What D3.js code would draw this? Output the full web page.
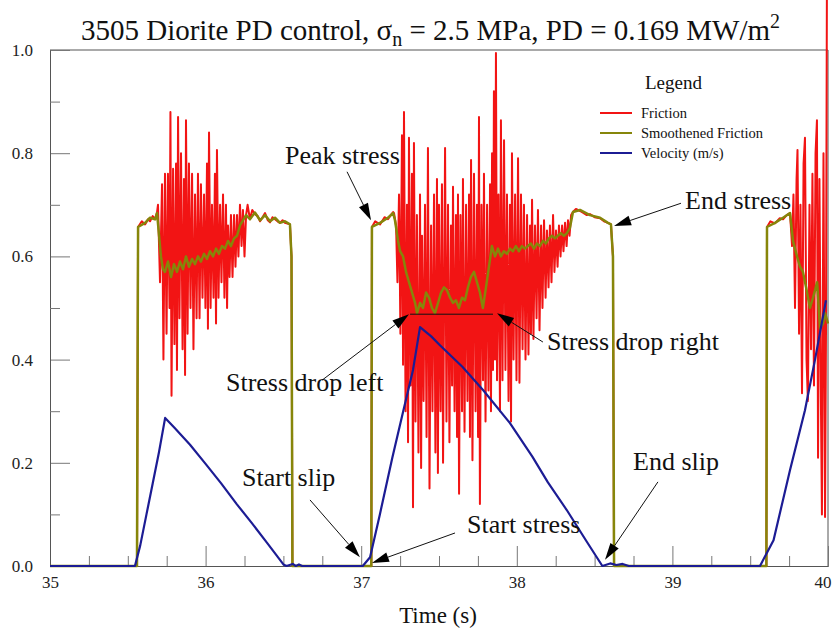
<!DOCTYPE html>
<html><head><meta charset="utf-8">
<script src="https://cdn.jsdelivr.net/npm/d3@7"></script>
<style>
body{margin:0;background:#fff;}
svg{display:block;font-family:"Liberation Serif","Times New Roman",serif;}
svg text{font-family:"Liberation Serif","Times New Roman",serif;}
</style>
</head><body>
<svg id="chart" width="833" height="633"></svg>
<script>
// ---------- data ----------
const xDomain = [35, 40];
const yDomain = [0, 1];
const xMajorTicks = [35, 36, 37, 38, 39, 40];
const xMinorTicks = [35.25, 35.5, 35.75, 36.25, 36.5, 36.75, 37.25, 37.5, 37.75, 38.25, 38.5, 38.75, 39.25, 39.5, 39.75];
const yMajorTicks = [0, 0.2, 0.4, 0.6, 0.8, 1.0];
const yMinorTicks = [0.1, 0.3, 0.5, 0.7, 0.9];
const seriesNames = ["Friction", "Smoothened Friction", "Velocity (m/s)"];
const titleText = "3505 Diorite PD control, ";
const xLabel = "Time (s)";

// velocity (m/s): [time s, value]
const velocity = [
[35.00,0],[35.546,0],[35.58,0.04],[35.62,0.10],[35.66,0.16],[35.70,0.22],[35.74,0.287],[35.80,0.268],[35.90,0.235],[36.00,0.198],[36.10,0.16],[36.20,0.12],[36.30,0.082],[36.40,0.043],[36.50,0.003],[36.52,0],[36.56,0.004],[36.58,0],[36.60,0.003],[36.62,0],
[37.01,0],[37.057,0.017],[37.12,0.10],[37.20,0.21],[37.27,0.30],[37.333,0.38],[37.378,0.463],[37.45,0.445],[37.506,0.428],[37.65,0.386],[37.783,0.341],[37.956,0.277],[38.10,0.212],[38.20,0.162],[38.32,0.109],[38.45,0.047],[38.55,0],[38.60,0.005],[38.64,0.002],[38.68,0.004],[38.72,0],
[39.563,0],[39.65,0.05],[39.756,0.186],[39.852,0.302],[39.916,0.399],[39.987,0.515]
];

// smoothened friction: [time s, value]
const smoothed = [
[35.00,0],[35.559,0],[35.566,0.657],[35.611,0.665],[35.643,0.675],[35.675,0.672],[35.688,0.684],[35.701,0.64],[35.713,0.60],[35.726,0.575],[35.739,0.57],[35.758,0.59],[35.778,0.56],[35.797,0.585],[35.816,0.57],[35.835,0.59],[35.855,0.575],[35.874,0.60],[35.893,0.58],[35.913,0.595],[35.932,0.585],[35.951,0.60],[35.970,0.59],[35.990,0.605],[36.009,0.595],[36.028,0.61],[36.048,0.60],[36.067,0.615],[36.086,0.605],[36.105,0.62],[36.125,0.615],[36.144,0.63],[36.163,0.62],[36.183,0.635],[36.202,0.64],[36.221,0.66],[36.240,0.67],[36.260,0.68],[36.285,0.672],[36.317,0.685],[36.350,0.67],[36.382,0.68],[36.414,0.668],[36.446,0.675],[36.478,0.665],[36.510,0.668],[36.542,0.662],[36.552,0.60],[36.558,0],
[37.065,0],[37.069,0.657],[37.121,0.665],[37.172,0.675],[37.205,0.684],[37.217,0.67],[37.237,0.63],[37.250,0.61],[37.269,0.60],[37.288,0.57],[37.307,0.55],[37.327,0.53],[37.346,0.51],[37.359,0.49],[37.378,0.51],[37.397,0.50],[37.417,0.53],[37.436,0.52],[37.455,0.50],[37.474,0.49],[37.494,0.51],[37.513,0.53],[37.532,0.54],[37.551,0.535],[37.571,0.52],[37.590,0.51],[37.609,0.515],[37.628,0.50],[37.648,0.52],[37.667,0.515],[37.686,0.54],[37.705,0.56],[37.725,0.57],[37.744,0.55],[37.763,0.53],[37.782,0.50],[37.802,0.54],[37.821,0.58],[37.840,0.62],[37.860,0.60],[37.879,0.615],[37.898,0.60],[37.917,0.61],[37.937,0.605],[37.956,0.615],[37.975,0.61],[37.994,0.62],[38.014,0.61],[38.033,0.62],[38.052,0.615],[38.071,0.62],[38.091,0.625],[38.110,0.615],[38.129,0.625],[38.148,0.62],[38.168,0.63],[38.187,0.625],[38.206,0.635],[38.226,0.64],[38.245,0.635],[38.264,0.64],[38.283,0.645],[38.303,0.64],[38.322,0.645],[38.341,0.655],[38.361,0.686],[38.406,0.69],[38.470,0.68],[38.535,0.675],[38.586,0.665],[38.605,0.662],[38.618,0.60],[38.625,0],
[39.604,0],[39.608,0.657],[39.659,0.665],[39.711,0.675],[39.756,0.684],[39.775,0.63],[39.801,0.60],[39.820,0.58],[39.839,0.57],[39.859,0.54],[39.884,0.50],[39.904,0.52],[39.930,0.55],[39.949,0.46],[39.968,0.47],[39.981,0.49],[40.000,0.47]
];

// raw friction: [time s, value]
const friction = [
[35.00,0],[35.559,0],[35.566,0.657],[35.59,0.668],[35.611,0.662],[35.63,0.672],[35.643,0.668],[35.66,0.678],[35.675,0.672],[35.688,0.686],
[35.694,0.70],[35.707,0.55],[35.720,0.74],[35.729,0.40],[35.739,0.76],[35.749,0.45],[35.758,0.76],[35.768,0.50],[35.774,0.88],[35.781,0.33],[35.791,0.77],[35.800,0.43],[35.810,0.78],[35.816,0.38],[35.823,0.87],[35.832,0.48],[35.842,0.80],[35.852,0.42],[35.861,0.75],[35.868,0.37],[35.874,0.864],[35.884,0.45],[35.893,0.78],[35.903,0.50],[35.913,0.76],[35.922,0.42],[35.932,0.72],[35.942,0.48],[35.951,0.76],[35.961,0.48],[35.970,0.74],[35.980,0.52],[35.990,0.72],[35.999,0.50],[36.009,0.78],[36.015,0.46],[36.022,0.84],[36.032,0.50],[36.041,0.70],[36.051,0.52],[36.060,0.76],[36.067,0.47],[36.073,0.806],[36.083,0.52],[36.093,0.70],[36.102,0.55],[36.112,0.72],[36.121,0.52],[36.131,0.70],[36.138,0.50],[36.144,0.66],[36.154,0.56],[36.163,0.68],[36.173,0.56],[36.183,0.68],[36.192,0.58],[36.202,0.68],[36.211,0.60],[36.221,0.70],[36.231,0.62],[36.240,0.69],[36.250,0.60],[36.260,0.68],
[36.27,0.70],[36.285,0.672],[36.30,0.69],[36.317,0.682],[36.335,0.678],[36.350,0.668],[36.366,0.676],[36.382,0.684],[36.40,0.67],[36.414,0.666],[36.43,0.676],[36.446,0.672],[36.462,0.668],[36.478,0.665],[36.495,0.67],[36.510,0.665],[36.542,0.662],[36.552,0.60],[36.558,0],
[37.065,0],[37.069,0.657],[37.09,0.668],[37.121,0.662],[37.15,0.676],[37.172,0.672],[37.19,0.68],[37.205,0.686],[37.211,0.684],
[37.224,0.66],[37.233,0.55],[37.243,0.72],[37.252,0.45],[37.262,0.835],[37.269,0.39],[37.275,0.88],[37.285,0.30],[37.294,0.70],[37.301,0.24],[37.307,0.83],[37.317,0.35],[37.326,0.76],[37.333,0.114],[37.339,0.82],[37.349,0.28],[37.358,0.68],[37.368,0.22],[37.378,0.72],[37.385,0.19],[37.391,0.64],[37.401,0.32],[37.410,0.70],[37.420,0.25],[37.429,0.81],[37.439,0.15],[37.449,0.66],[37.458,0.30],[37.468,0.72],[37.477,0.22],[37.487,0.75],[37.493,0.18],[37.500,0.70],[37.510,0.30],[37.519,0.74],[37.526,0.20],[37.539,0.81],[37.548,0.28],[37.558,0.70],[37.567,0.24],[37.577,0.66],[37.584,0.35],[37.590,0.735],[37.600,0.30],[37.609,0.68],[37.616,0.25],[37.622,0.72],[37.629,0.14],[37.638,0.68],[37.648,0.30],[37.654,0.75],[37.664,0.26],[37.674,0.70],[37.683,0.32],[37.693,0.72],[37.699,0.25],[37.706,0.787],[37.715,0.205],[37.725,0.76],[37.735,0.30],[37.744,0.70],[37.751,0.25],[37.757,0.87],[37.763,0.12],[37.773,0.70],[37.783,0.36],[37.789,0.76],[37.799,0.28],[37.809,0.70],[37.818,0.34],[37.828,0.74],[37.834,0.30],[37.841,0.80],[37.847,0.38],[37.853,0.92],[37.860,0.40],[37.866,0.994],[37.873,0.36],[37.882,0.72],[37.892,0.30],[37.898,0.864],[37.908,0.36],[37.918,0.825],[37.927,0.38],[37.937,0.72],[37.947,0.32],[37.956,0.70],[37.963,0.28],[37.969,0.80],[37.979,0.40],[37.989,0.72],[37.998,0.36],[38.008,0.79],[38.017,0.355],[38.027,0.72],[38.037,0.42],[38.046,0.70],[38.056,0.40],[38.066,0.68],[38.075,0.41],[38.085,0.66],[38.091,0.45],[38.098,0.71],[38.107,0.44],[38.117,0.66],[38.127,0.48],[38.136,0.69],[38.146,0.457],[38.156,0.66],[38.165,0.50],[38.175,0.67],[38.185,0.52],[38.194,0.65],[38.204,0.54],[38.213,0.66],[38.223,0.55],[38.233,0.68],[38.242,0.57],[38.252,0.65],[38.262,0.58],[38.271,0.66],[38.281,0.60],[38.291,0.66],[38.300,0.61],[38.310,0.665],[38.320,0.62],[38.329,0.67],[38.339,0.64],[38.349,0.68],[38.361,0.686],
[38.38,0.692],[38.406,0.688],[38.43,0.684],[38.45,0.68],[38.470,0.682],[38.50,0.676],[38.535,0.674],[38.56,0.668],[38.586,0.665],[38.605,0.662],[38.618,0.60],[38.625,0],
[39.604,0],[39.608,0.657],[39.63,0.668],[39.659,0.664],[39.69,0.674],[39.711,0.672],[39.735,0.68],[39.756,0.684],
[39.769,0.62],[39.778,0.72],[39.788,0.50],[39.798,0.75],[39.804,0.806],[39.814,0.45],[39.823,0.70],[39.833,0.335],[39.843,0.78],[39.852,0.83],[39.862,0.40],[39.871,0.32],[39.881,0.70],[39.891,0.42],[39.900,0.76],[39.910,0.35],[39.920,0.80],[39.929,0.864],[39.936,0.21],[39.945,0.75],[39.955,0.30],[39.961,0.10],[39.971,0.80],[39.981,0.095],[39.987,0.45],[39.993,1.12]
];

// annotations in data units: label anchor, arrow tail -> tip
const annotationLabels = ["Peak stress", "End stress", "Stress drop right", "Stress drop left", "Start slip", "Start stress", "End slip"];
const annotationText = [[36.510,0.779],[39.081,0.692],[38.194,0.419],[36.131,0.339],[36.234,0.155],[37.680,0.064],[38.747,0.186]];
const annotationTail = [[36.909,0.764],[39.055,0.703],[38.168,0.434],[36.748,0.360],[36.671,0.128],[37.603,0.064],[38.907,0.163]];
const annotationTip  = [[37.063,0.670],[38.625,0.659],[37.873,0.490],[37.307,0.488],[36.992,0.017],[37.069,0.006],[38.567,0.012]];
const dropLine = [[37.314,0.488],[37.847,0.488]];

// ---------- drawing ----------
const FONT = "'Liberation Serif','Times New Roman',serif";
const W = 833, H = 633;
const mLeft = 50, mRight = 828, mTop = 50, mBottom = 566;
const colors = {friction:"#f21414", smooth:"#86860a", vel:"#1c1c94"};

const svg = d3.select("#chart");
const x = d3.scaleLinear().domain(xDomain).range([mLeft, mRight]);
const y = d3.scaleLinear().domain(yDomain).range([mBottom, mTop]);

// frame top/right
svg.append("line").attr("x1",mLeft).attr("x2",mRight).attr("y1",mTop).attr("y2",mTop).attr("stroke","#555").attr("stroke-width",1);
svg.append("line").attr("x1",mRight).attr("x2",mRight).attr("y1",mTop).attr("y2",mBottom).attr("stroke","#555").attr("stroke-width",1);

// x axis
const gx = svg.append("g").attr("transform",`translate(0,${mBottom})`)
  .call(d3.axisBottom(x).tickValues(xMajorTicks).tickSize(-20).tickSizeOuter(0).tickPadding(10).tickFormat(d3.format("d")));
const gxm = svg.append("g").attr("transform",`translate(0,${mBottom})`)
  .call(d3.axisBottom(x).tickValues(xMinorTicks).tickSize(-10).tickSizeOuter(0).tickFormat(""));
// y axis
const gy = svg.append("g").attr("transform",`translate(${mLeft},0)`)
  .call(d3.axisLeft(y).tickValues(yMajorTicks).tickSize(-20).tickSizeOuter(0).tickPadding(17).tickFormat(d3.format(".1f")));
const gym = svg.append("g").attr("transform",`translate(${mLeft},0)`)
  .call(d3.axisLeft(y).tickValues(yMinorTicks).tickSize(-10).tickSizeOuter(0).tickFormat(""));
[gx,gxm,gy,gym].forEach(g=>{
  g.attr("font-family",FONT);
  g.selectAll("path.domain").attr("stroke","#555");
  g.selectAll(".tick line").attr("stroke","#777");
  g.selectAll("text").attr("font-family",FONT).attr("font-size",17).attr("fill","#222");
});
gx.selectAll("text").attr("dy","0.71em");
// keep the last x label inside the picture
gx.selectAll(".tick text").filter(d=>d===xDomain[1]).attr("text-anchor","end").attr("dx","3");

// series
const line = d3.line().x(d=>x(d[0])).y(d=>y(d[1]));
svg.append("path").datum(friction).attr("d",line).attr("fill","none").attr("stroke",colors.friction).attr("stroke-width",2).attr("stroke-linejoin","round");
svg.append("path").datum(smoothed).attr("d",line).attr("fill","none").attr("stroke",colors.smooth).attr("stroke-width",2.5).attr("stroke-linejoin","round");
svg.append("path").datum(velocity).attr("d",line).attr("fill","none").attr("stroke",colors.vel).attr("stroke-width",2.2).attr("stroke-linejoin","round");

// annotations
function arrow(x1,y1,x2,y2){
  const ang = Math.atan2(y2-y1,x2-x1), L = 17, hw = 5;
  const bx = x2 - L*Math.cos(ang), by = y2 - L*Math.sin(ang);
  const px = -Math.sin(ang)*hw, py = Math.cos(ang)*hw;
  svg.append("line").attr("x1",x1).attr("y1",y1).attr("x2",bx).attr("y2",by).attr("stroke","#111").attr("stroke-width",1);
  svg.append("path").attr("d",`M${x2},${y2}L${bx+px},${by+py}L${bx-px},${by-py}Z`).attr("fill","#000");
}
svg.append("line").attr("x1",x(dropLine[0][0])).attr("x2",x(dropLine[1][0])).attr("y1",y(dropLine[0][1])).attr("y2",y(dropLine[1][1])).attr("stroke","#111").attr("stroke-width",1);
annotationLabels.forEach((lab,i)=>{
  arrow(x(annotationTail[i][0]),y(annotationTail[i][1]),x(annotationTip[i][0]),y(annotationTip[i][1]));
  svg.append("text").attr("x",x(annotationText[i][0])).attr("y",y(annotationText[i][1])).attr("font-family",FONT).attr("font-size",26).attr("fill","#111").text(lab);
});

// title
const title = svg.append("text").attr("x",W/2+14).attr("y",40).attr("text-anchor","middle").attr("font-family",FONT).attr("font-size",29).attr("fill","#111");
title.append("tspan").text(titleText + "\u03c3");
title.append("tspan").attr("font-size",20).attr("dy",6).text("n");
title.append("tspan").attr("dy",-6).text(" = 2.5 MPa, PD = 0.169 MW/m");
title.append("tspan").attr("font-size",20).attr("dy",-12).text("2");

// axis label
svg.append("text").attr("x",438).attr("y",623).attr("text-anchor","middle").attr("font-family",FONT).attr("font-size",23).attr("fill","#111").text(xLabel);

// legend
svg.append("text").attr("x",645).attr("y",89).attr("font-family",FONT).attr("font-size",19).attr("fill","#111").text("Legend");
const lc = [colors.friction, colors.smooth, colors.vel];
seriesNames.forEach((n,i)=>{
  const ly = 113 + i*20;
  svg.append("line").attr("x1",600).attr("x2",632).attr("y1",ly).attr("y2",ly).attr("stroke",lc[i]).attr("stroke-width",2);
  svg.append("text").attr("x",641).attr("y",ly+5).attr("font-family",FONT).attr("font-size",14.5).attr("fill","#111").text(n);
});
</script>
</body></html>
